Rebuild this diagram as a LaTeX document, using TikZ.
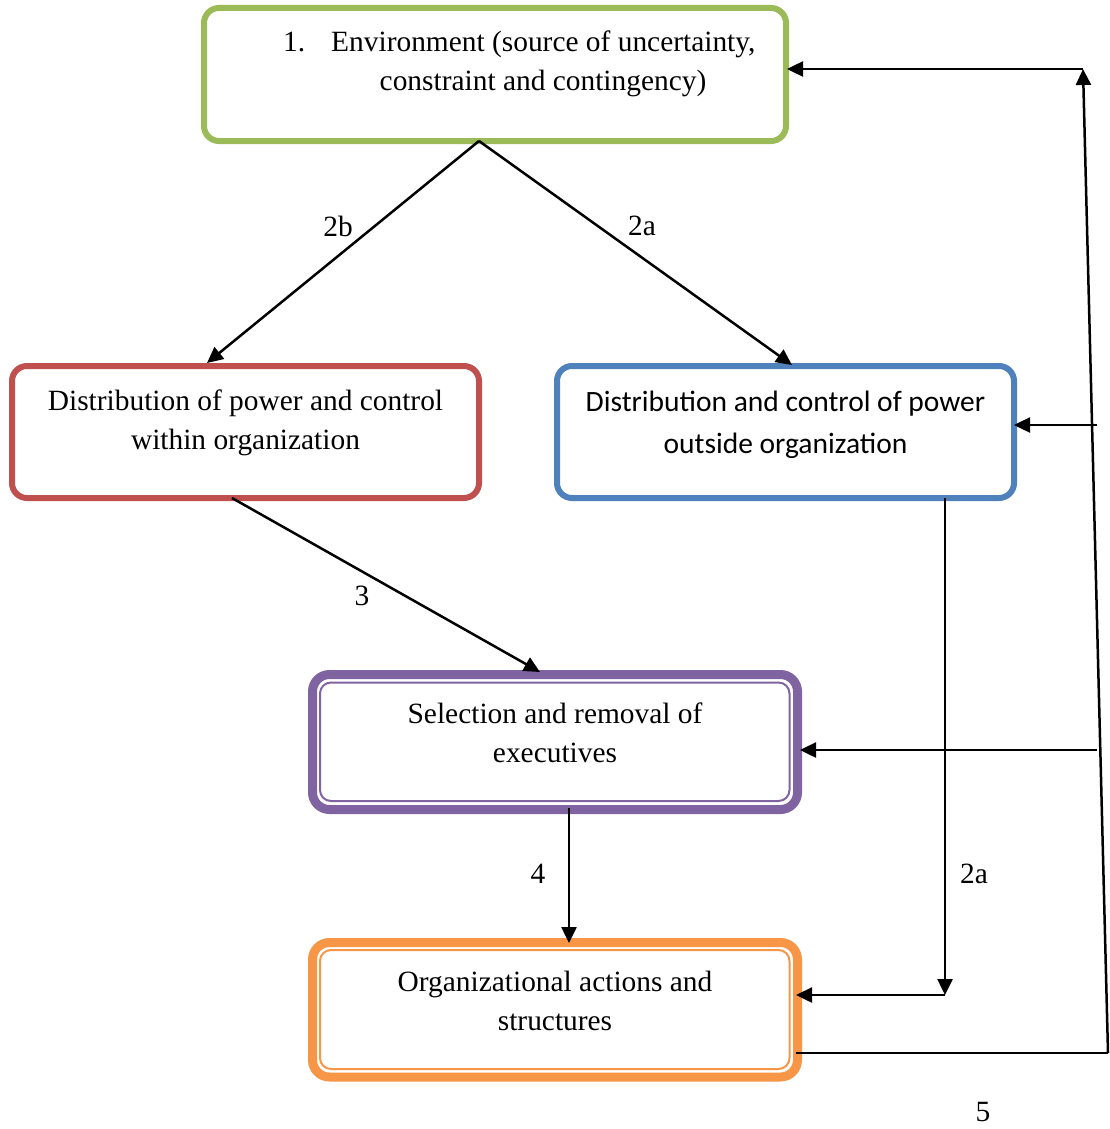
\documentclass[tikz,border=0pt]{standalone}
\usepackage{fontspec}
\setmainfont{Liberation Serif}
\newfontfamily\calib{Carlito}
\usetikzlibrary{arrows.meta,calc}
\definecolor{cgreen}{HTML}{9BBB59}
\definecolor{cred}{HTML}{C0504D}
\definecolor{cblue}{HTML}{4F81BD}
\definecolor{cpurple}{HTML}{8064A2}
\definecolor{corange}{HTML}{F79646}
\tikzset{
  box/.style={draw, rounded corners=15pt, line width=6pt, inner sep=0pt},
  dbox/.style={draw, rounded corners=17pt, line width=9pt, inner sep=0pt},
  inbox/.style={line width=2pt, rounded corners=11pt},
  txt/.style={font=\fontsize{29.4}{39}\selectfont, align=center, inner sep=0pt},
  stxt/.style={font=\calib\fontsize{29.5}{42}\selectfont, align=center, inner sep=0pt},
  lab/.style={font=\fontsize{29.4}{32}\selectfont, inner sep=0pt},
  conn/.style={line width=2.5pt, -{Triangle[length=16pt,width=15pt]}},
  plain/.style={line width=2.5pt}
}
\begin{document}
\begin{tikzpicture}[x=1pt,y=-1pt]
\useasboundingbox (0,0) rectangle (1110,1129);
% boxes
\node (env) [box, draw=cgreen, minimum width=582pt, minimum height=133pt] at (495,74.5) {};
\node (inn) [box, draw=cred, minimum width=467pt, minimum height=132pt] at (245.5,432) {};
\node (out) [box, draw=cblue, minimum width=457pt, minimum height=132pt] at (785.5,432) {};
\node (sel) [dbox, draw=cpurple, minimum width=485pt, minimum height=135pt] at (555,742) {};
\draw[inbox, cpurple] (320,682.5) rectangle (789.5,801);
\node (org) [dbox, draw=corange, minimum width=485pt, minimum height=134.5pt] at (555,1009.75) {};
\draw[inbox, corange] (320,950) rectangle (789.5,1069);
% texts
\node (envt1) [txt, anchor=base west] at (283,52) {1.\hspace{26pt}Environment (source of uncertainty,};
\node (envt2) [txt, anchor=base] at (543,91) {constraint and contingency)};
\node (innt) [txt, anchor=base] at (245.5,449) {Distribution of power and control\\within organization};
\node (outt) [stxt, anchor=base] at (785.5,453) {Distribution and control of power\\outside organization};
\node (selt) [txt, anchor=base] at (555,762) {Selection and removal of\\executives};
\node (orgt) [txt, anchor=base] at (555,1030) {Organizational actions and\\structures};
% connector points
\coordinate (top) at (479,141);
\coordinate (bj) at (945,995);
\coordinate (fb1) at (1108,1053);
\coordinate (fb2) at (1083,69);
\coordinate (r1) at (1097,425);
\coordinate (r2) at (1097,750);
% connectors
\draw[conn] (top) -- (207,363);
\draw[conn] (top) -- (792,365);
\draw[conn] (232,498) -- (540,672);
\draw[conn] (569,808) -- (569,943);
\draw[conn] (945,498) -- (bj);
\draw[conn] (bj) -- (796,995);
\draw[plain] (796,1053) -- (fb1);
\draw[conn] (fb1) -- (fb2);
\draw[conn] (fb2) -- (787,69);
\draw[conn] (r1) -- (1014,425);
\draw[conn] (r2) -- (800,750);
% labels
\node (l2b) [lab] at (338,226) {2b};
\node (l2a) [lab] at (642,226) {2a};
\node (l3) [lab] at (362,596) {3};
\node (l4) [lab] at (538,874) {4};
\node (l2a2) [lab] at (974,874) {2a};
\node (l5) [lab] at (983,1112) {5};
\end{tikzpicture}
\end{document}
